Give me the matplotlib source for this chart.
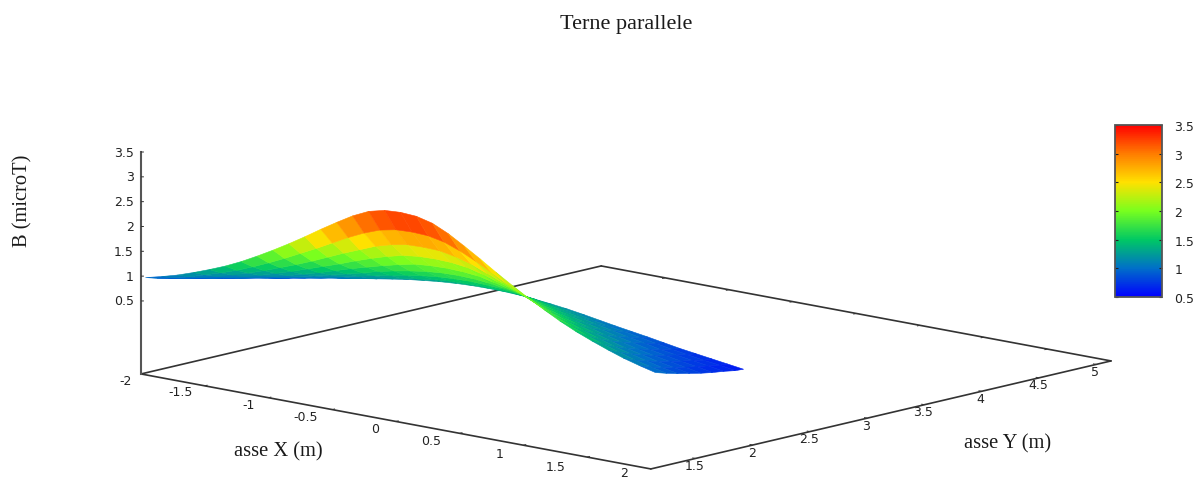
import numpy as np
import matplotlib
matplotlib.use("Agg")
import matplotlib.pyplot as plt
from matplotlib.colors import LinearSegmentedColormap, Normalize
from matplotlib.cm import ScalarMappable
from mpl_toolkits.mplot3d.art3d import Poly3DCollection
from mpl_toolkits.mplot3d import proj3d

W, H = 1195, 481
title = "Terne parallele"
x_label = "asse X (m)"
y_label = "asse Y (m)"
z_label = "B (microT)"

x_ticks = [-2, -1.5, -1, -0.5, 0, 0.5, 1, 1.5, 2]
y_ticks = [1.5, 2, 2.5, 3, 3.5, 4, 4.5, 5]
z_ticks = [0.5, 1, 1.5, 2, 2.5, 3, 3.5]
x_tick_labels = ["-2", "-1.5", "-1", "-0.5", "0", "0.5", "1", "1.5", "2"]
y_tick_labels = ["1.5", "2", "2.5", "3", "3.5", "4", "4.5", "5"]
z_tick_labels = ["0.5", "1", "1.5", "2", "2.5", "3", "3.5"]

x_range = (-2, 2)
y_range = (1.11, 5.13)
z_range = (-0.97, 3.5)
c_range = (0.5, 3.5)

# Field is symmetric about x = 0: table read for x >= 0
x_half = [0, 0.125, 0.25, 0.375, 0.5, 0.625, 0.75, 0.875, 1,
          1.125, 1.25, 1.375, 1.5, 1.625, 1.75, 1.875, 2]
y_rows = [1.15, 1.25, 1.35, 1.45, 1.55, 1.65, 1.75, 1.85, 1.92]
z_y115 = [3.22, 3.20, 3.12, 2.97, 2.78, 2.58, 2.37, 2.17, 1.98, 1.80, 1.63, 1.48, 1.35, 1.23, 1.12, 1.03, 0.95]
z_y125 = [2.77, 2.755, 2.69, 2.57, 2.42, 2.25, 2.08, 1.92, 1.76, 1.61, 1.47, 1.34, 1.23, 1.13, 1.03, 0.95, 0.88]
z_y135 = [2.41, 2.40, 2.34, 2.25, 2.12, 1.99, 1.85, 1.71, 1.58, 1.46, 1.34, 1.23, 1.13, 1.04, 0.96, 0.88, 0.82]
z_y145 = [2.12, 2.11, 2.07, 1.99, 1.89, 1.78, 1.66, 1.55, 1.44, 1.33, 1.23, 1.13, 1.04, 0.97, 0.89, 0.83, 0.77]
z_y155 = [1.88, 1.87, 1.84, 1.77, 1.69, 1.60, 1.51, 1.41, 1.31, 1.22, 1.13, 1.05, 0.97, 0.90, 0.84, 0.78, 0.72]
z_y165 = [1.68, 1.67, 1.64, 1.59, 1.53, 1.46, 1.37, 1.29, 1.21, 1.13, 1.05, 0.98, 0.91, 0.85, 0.79, 0.74, 0.68]
z_y175 = [1.51, 1.50, 1.48, 1.44, 1.39, 1.33, 1.26, 1.19, 1.12, 1.05, 0.98, 0.92, 0.85, 0.80, 0.75, 0.70, 0.65]
z_y185 = [1.36, 1.35, 1.34, 1.31, 1.26, 1.21, 1.16, 1.09, 1.03, 0.98, 0.92, 0.86, 0.80, 0.75, 0.70, 0.66, 0.61]
z_y192 = [1.27, 1.265, 1.25, 1.225, 1.19, 1.15, 1.10, 1.045, 0.99, 0.94, 0.89, 0.835, 0.78, 0.735, 0.69, 0.645, 0.60]

palette = [(0.0, "#0000ff"), (1/6, "#0070c8"), (2/6, "#00c864"), (3/6, "#78ff1e"),
           (4/6, "#ffe100"), (5/6, "#ff7d00"), (1.0, "#ff0000")]

plt.rcParams["font.family"] = "DejaVu Sans"
SERIF = "Liberation Serif"
LINE = "#333333"
TXT = "#222222"

fig = plt.figure(figsize=(W / 100, H / 100), dpi=100, facecolor="white")
S = 1300
left = 626 - 0.5135 * S
bottom = (H - 257.5) - 0.5135 * S
ax = fig.add_axes([left / W, bottom / H, S / W, S / H], projection="3d", proj_type="ortho")
ax.set_axis_off()
ax.patch.set_alpha(0)
ax.computed_zorder = False
ax.view_init(elev=12.07, azim=-48.3)
ax.set_box_aspect((683, 692, 227), zoom=969 / S)
ax.set_xlim(*x_range, view_margin=0)
ax.set_ylim(*y_range, view_margin=0)
ax.set_zlim(*z_range, view_margin=0)

cmap = LinearSegmentedColormap.from_list("field", palette)
norm = Normalize(*c_range)

# surface: every cell takes its colour from its edge nearest the viewer
half = np.array([z_y115, z_y125, z_y135, z_y145, z_y155, z_y165, z_y175, z_y185, z_y192])
xh = np.array(x_half)
xs = np.concatenate([-xh[:0:-1], xh])
zz = np.concatenate([half[:, :0:-1], half], axis=1)
ys = np.array(y_rows)
verts, vals = [], []
for j in range(len(ys) - 1):
    for i in range(len(xs) - 1):
        verts.append([(xs[i], ys[j], zz[j, i]), (xs[i + 1], ys[j], zz[j, i + 1]),
                      (xs[i + 1], ys[j + 1], zz[j + 1, i + 1]), (xs[i], ys[j + 1], zz[j + 1, i])])
        vals.append(zz[j, i:i + 2].mean())
cols = cmap(norm(np.array(vals)))
poly = Poly3DCollection(verts, facecolors=cols, edgecolors=cols, linewidths=0.4, zorder=3)
ax.add_collection3d(poly, autolim=False)

x0, x1 = x_range
y0, y1 = y_range
z0, z1 = z_range
seg = dict(color=LINE, lw=1.2, clip_on=False, solid_capstyle="round")
for a, b in [((x0, y0), (x1, y0)), ((x1, y0), (x1, y1)), ((x1, y1), (x0, y1)), ((x0, y1), (x0, y0))]:
    ax.plot([a[0], b[0]], [a[1], b[1]], [z0, z0], zorder=1, **seg)
ax.plot([x0, x0], [y0, y0], [z0, z1], zorder=1, color="#555555", lw=1.5, clip_on=False)

tick = dict(color=LINE, lw=0.7, clip_on=False, solid_capstyle="butt")
for t in x_ticks[1:-1]:
    ax.plot([t, t], [y0, y0 + 0.025], [z0, z0], zorder=1, **tick)
    ax.plot([t, t], [y1, y1 - 0.025], [z0, z0], zorder=1, **tick)
for t in y_ticks:
    ax.plot([x1, x1 - 0.025], [t, t], [z0, z0], zorder=1, **tick)
for t in z_ticks:
    ax.plot([x0, x0 + 0.012], [y0, y0 + 0.012], [t, t], zorder=1, **tick)

# tick labels: projected through the 3D view, then offset in pixels
M = ax.get_proj()
lab = dict(fontsize=9, color=TXT, va="center", xycoords="data", textcoords="offset pixels",
           annotation_clip=False, zorder=5)

def tick_label(x, y, z, s, off, ha):
    px, py, _ = proj3d.proj_transform(x, y, z, M)
    ax.annotate(s, xy=(px, py), xytext=off, ha=ha, **lab)

x_label_off = [(-15, -7), (-24, -6), (-20, -7), (-27, -7), (-21, -7), (-29, -7), (-24, -8), (-31, -9), (-27, -4)]
for t, s, off in zip(x_ticks, x_tick_labels, x_label_off):
    tick_label(t, y0, z0, s, off, "center")
for t, s in zip(y_ticks, y_tick_labels):
    tick_label(x1, t, z0, s, (-1, -7), "center")
for t, s in zip(z_ticks, z_tick_labels):
    tick_label(x0, y0, t, s, (-7, 0), "right")

# colour bar
cax = fig.add_axes([1115 / W, (H - 298) / H, 47 / W, 172 / H])
cb = fig.colorbar(ScalarMappable(norm=norm, cmap=cmap), cax=cax, ticks=z_ticks)
cb.ax.set_yticklabels(z_tick_labels)
cb.outline.set_edgecolor("#555555")
cb.outline.set_linewidth(1.3)
cax.tick_params(axis="y", direction="in", left=True, right=True, length=2, width=0.8,
                color="#222222", labelsize=9, labelcolor=TXT, pad=9)

# titles
def ftext(px, py, s, **kw):
    fig.text(px / W, 1 - py / H, s, family=SERIF, color="#1a1a1a", ha="center", va="center", **kw)

ftext(626, 24, title, fontsize=16)
ftext(278, 452, x_label, fontsize=14.8)
ftext(1008, 444, y_label, fontsize=14.8)
ftext(23, 201, z_label, fontsize=14.8, rotation=90)

fig.savefig("out.png", dpi=100, facecolor="white")
